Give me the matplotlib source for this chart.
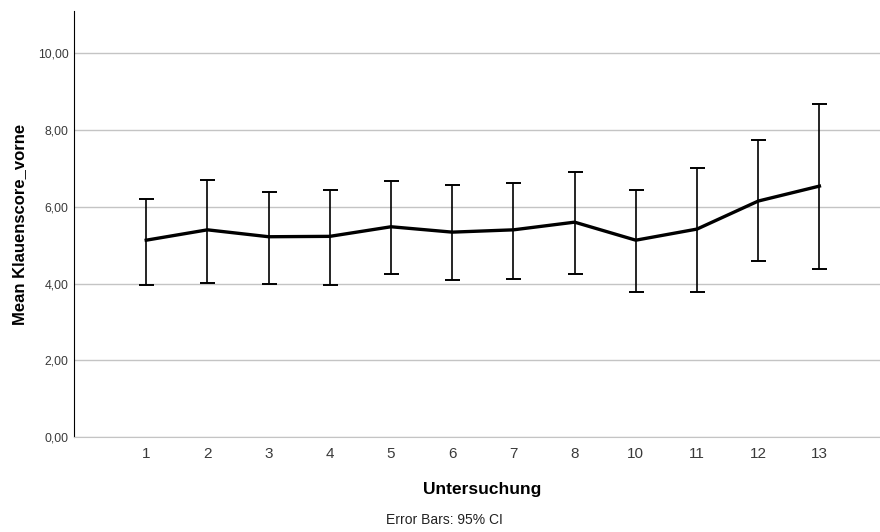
import matplotlib
matplotlib.use("Agg")
from matplotlib import pyplot as plt

plt.rcParams['font.family'] = ['Liberation Sans', 'DejaVu Sans']

# data
untersuchung = ["1", "2", "3", "4", "5", "6", "7", "8", "10", "11", "12", "13"]
mean_score = [5.13, 5.40, 5.22, 5.23, 5.48, 5.34, 5.40, 5.60, 5.13, 5.42, 6.15, 6.54]
ci_upper = [6.21, 6.71, 6.39, 6.44, 6.68, 6.56, 6.62, 6.91, 6.43, 7.02, 7.75, 8.69]
ci_lower = [3.96, 4.02, 3.99, 3.97, 4.24, 4.10, 4.12, 4.25, 3.77, 3.77, 4.58, 4.38]

x = list(range(len(untersuchung)))
err_low = [m - l for m, l in zip(mean_score, ci_lower)]
err_high = [u - m for m, u in zip(mean_score, ci_upper)]

fig = plt.figure(figsize=(8.8, 5.32), dpi=100)
ax = fig.add_axes([0.0841, 0.1786, 0.9159, 0.8004])

ax.errorbar(x, mean_score, yerr=[err_low, err_high], fmt='none',
            ecolor='black', elinewidth=1.2, capsize=5.4, capthick=1.4, zorder=3)
ax.plot(x, mean_score, color='black', linewidth=2.4, zorder=4)

ax.set_xlim(-1.18, 11.99)
ax.set_ylim(0, 11.1)
ax.set_yticks([0, 2, 4, 6, 8, 10])
ax.set_yticklabels(["0,00", "2,00", "4,00", "6,00", "8,00", "10,00"], fontsize=8.8, color='#3a3a3a')
ax.set_xticks(x)
ax.set_xticklabels(untersuchung, fontsize=11, color='#3a3a3a')
ax.tick_params(axis='both', length=0)
ax.tick_params(axis='x', pad=7)
ax.tick_params(axis='y', pad=4)

ax.grid(axis='y', color='#c4c4c4', linewidth=1)
ax.set_axisbelow(True)
for s in ['top', 'right']:
    ax.spines[s].set_visible(False)
ax.spines['bottom'].set_color('#c4c4c4')
ax.spines['left'].set_color('black')

ax.set_ylabel("Mean Klauenscore_vorne", fontsize=12, fontweight='bold', labelpad=8)
ax.set_xlabel("Untersuchung", fontsize=12.5, fontweight='bold')
ax.xaxis.set_label_coords(0.506, -0.124)
ax.xaxis.label.set_va('center')

fig.text(0.505, 0.015, "Error Bars: 95% CI", fontsize=10, ha='center', color='#222222')

fig.savefig("out.png", dpi=100)
